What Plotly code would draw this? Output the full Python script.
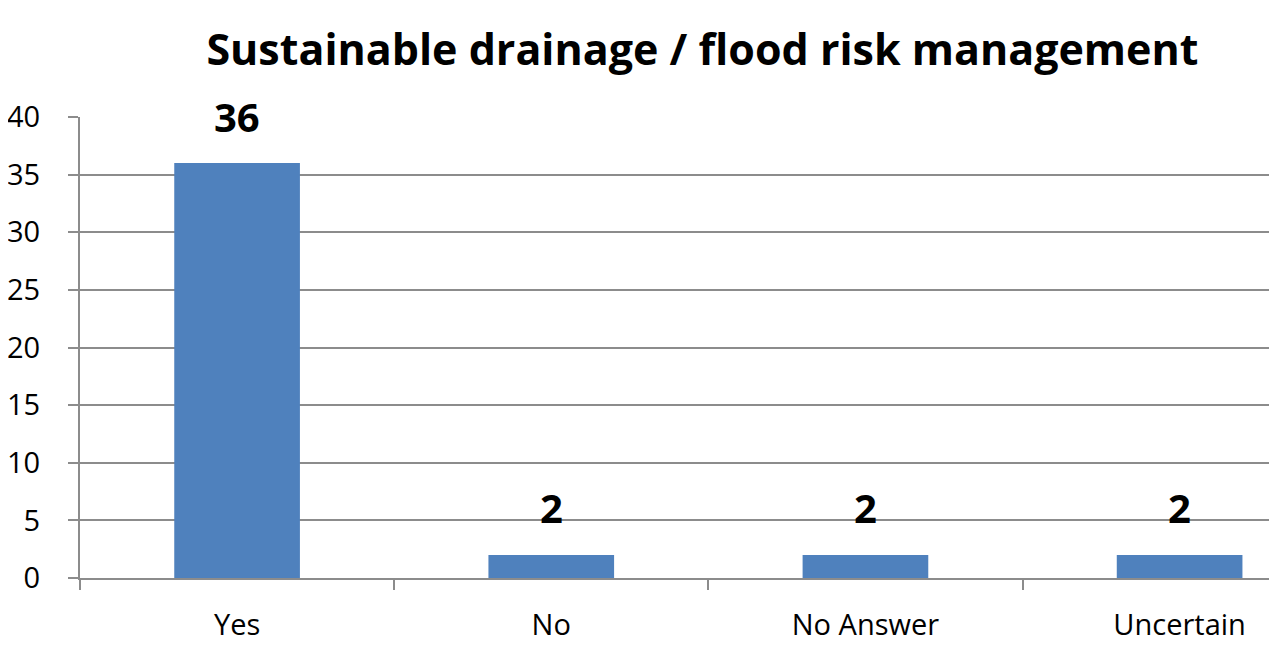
import plotly.graph_objects as go

categories = ["Yes", "No", "No Answer", "Uncertain"]
values = [36, 2, 2, 2]
y_ticks = [0, 5, 10, 15, 20, 25, 30, 35, 40]
title_text = "Sustainable drainage / flood risk management"

BAR = "#4F81BD"
GRID = "#8C8C8C"
FONT = "Open Sans, Noto Sans, sans-serif"

fig = go.Figure()
fig.add_trace(go.Bar(
    x=categories, y=values, marker_color=BAR, marker_line_width=0,
    width=0.4, hoverinfo="skip",
))
for c, v in zip(categories, values):
    fig.add_annotation(
        x=c, y=v, text=str(v), showarrow=False, yanchor="middle", yshift=47,
        font=dict(family=FONT, size=40, color="#000000", weight="bold"),
    )

fig.update_layout(
    width=1277, height=670,
    margin=dict(l=72, r=8, t=109, b=100, autoexpand=False),
    paper_bgcolor="white", plot_bgcolor="white",
    showlegend=False,
    title=dict(
        text=title_text, x=0.52, xanchor="center", xref="paper",
        y=0.938, yanchor="middle", yref="container",
        font=dict(family=FONT, size=43, color="#000000", weight="bold"),
    ),
)
fig.update_xaxes(
    type="category", range=[-0.5, 3.31], automargin=False,
    showline=True, linecolor=GRID, linewidth=2,
    ticks="outside", tickson="boundaries", ticklen=10, tickcolor=GRID, tickwidth=2,
    showgrid=False, ticklabelstandoff=20,
    tickfont=dict(family=FONT, size=29, color="#000000"),
    fixedrange=True,
)
fig.update_yaxes(
    range=[0, 40], tickvals=y_ticks, automargin=False,
    showline=True, linecolor=GRID, linewidth=2,
    ticks="outside", ticklen=10, tickcolor=GRID, tickwidth=2,
    showgrid=True, gridcolor=GRID, gridwidth=2,
    zeroline=False, ticklabelstandoff=22,
    tickfont=dict(family=FONT, size=29, color="#000000"),
    fixedrange=True,
)

fig.write_html("out.html")
